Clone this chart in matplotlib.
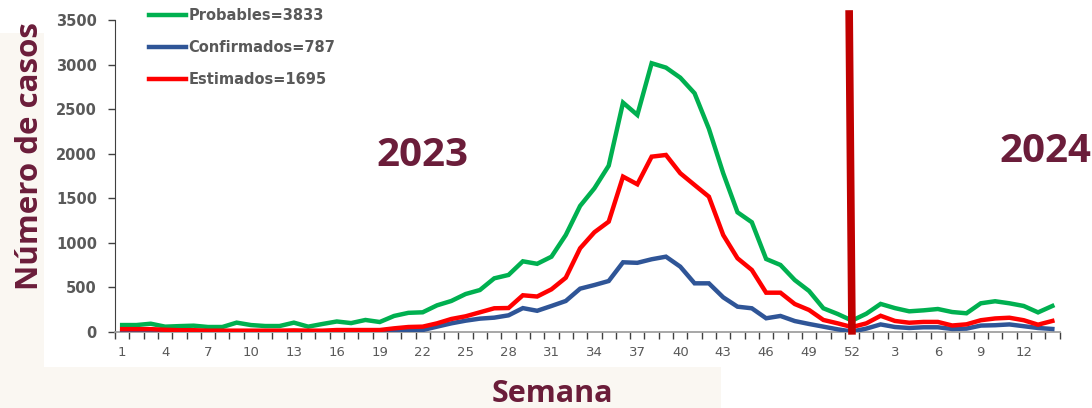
import matplotlib
matplotlib.use("Agg")
import matplotlib.pyplot as plt
from matplotlib.patches import Rectangle

# ---- data ----
weeks_2023 = list(range(1, 53))
weeks_2024 = list(range(1, 15))
week_labels = [str(w) for w in weeks_2023] + [str(w) for w in weeks_2024]

probables = [78, 78, 93, 60, 66, 71, 56, 56, 105, 78, 67, 67, 105, 60, 90, 118, 100, 135, 112, 180,
             215, 221, 299, 348, 426, 471, 602, 640, 793, 765, 845, 1088, 1414, 1612, 1866, 2573,
             2435, 3015, 2966, 2853, 2678, 2280, 1781, 1343, 1231, 819, 752, 583, 460, 266, 202, 128,
             205, 315, 268, 232, 243, 258, 224, 210, 322, 345, 322, 292, 220, 292]
confirmados = [8, 8, 8, 6, 5, 5, 4, 4, 4, 4, 4, 4, 5, 4, 4, 6, 6, 6, 6, 10,
               12, 22, 60, 97, 127, 150, 161, 187, 268, 238, 292, 348, 486, 527, 572, 782,
               776, 816, 845, 733, 546, 546, 389, 284, 266, 154, 180, 123, 90, 60, 30, 5,
               38, 85, 56, 45, 53, 53, 34, 38, 72, 76, 85, 65, 45, 34]
estimados = [32, 32, 32, 25, 20, 20, 15, 15, 15, 15, 15, 15, 18, 15, 15, 22, 22, 22, 22, 41,
             56, 60, 97, 146, 176, 221, 266, 269, 412, 398, 479, 609, 939, 1119, 1238, 1743,
             1657, 1967, 1986, 1781, 1649, 1518, 1088, 827, 696, 441, 441, 314, 247, 135, 97, 55,
             97, 182, 124, 104, 113, 113, 73, 86, 132, 152, 160, 132, 82, 124]

series_names = ["Probables=3833", "Confirmados=787", "Estimados=1695"]
series_colors = ["#00B050", "#2F5597", "#FF0000"]
y_ticks = [0, 500, 1000, 1500, 2000, 2500, 3000, 3500]
year_labels = ["2023", "2024"]

maroon = "#6B1D3A"
gray = "#595959"

fig = plt.figure(figsize=(10.92, 4.08), dpi=100)
fig.patch.set_facecolor("white")

# very faint beige background watermark areas
fig.patches.append(Rectangle((0, 0), 0.66, 0.10, transform=fig.transFigure,
                             facecolor="#FAF7F2", edgecolor="none", zorder=-10))
fig.patches.append(Rectangle((0, 0.10), 0.04, 0.82, transform=fig.transFigure,
                             facecolor="#FAF7F2", edgecolor="none", zorder=-10))

ax = fig.add_axes([115 / 1092, 76 / 408, 944.5 / 1092, 312 / 408])
ax.patch.set_alpha(0)

x = list(range(len(week_labels)))
for vals, name, col in zip([probables, confirmados, estimados], series_names, series_colors):
    ax.plot(x, vals, color=col, lw=3.2, label=name, solid_joinstyle="miter", zorder=3)

# separator at week 52
sep = weeks_2023.index(52)
ax.plot([sep - 0.2, sep], [3610, -30], color="#C00000", lw=5.5, clip_on=False, zorder=4,
        solid_capstyle="butt")

ax.set_xlim(-0.5, len(x) - 0.5)
ax.set_ylim(0, 3500)
ax.set_yticks(y_ticks)
ax.set_yticklabels([str(v) for v in y_ticks], fontsize=10.5, color=gray, fontweight="bold")

label_pos = [i for i in x if i % 3 == 0]
ax.set_xticks(label_pos)
ax.set_xticklabels([week_labels[i] for i in label_pos], fontsize=9.5, color=gray)
ax.set_xticks([i - 0.5 for i in range(len(x) + 1)], minor=True)
ax.tick_params(axis="x", which="major", length=0, pad=10)
ax.tick_params(axis="x", which="minor", length=5, width=1, color="#404040", direction="out")
ax.tick_params(axis="y", length=5, width=1, color="#404040", direction="out", pad=8)

for s in ["top", "right"]:
    ax.spines[s].set_visible(False)
ax.spines["left"].set_color("#404040")
ax.spines["bottom"].set_color("#A0A0A0")
ax.spines["bottom"].set_linewidth(1.3)

ax.set_ylabel("Número de casos", fontsize=22.5, fontweight="bold", color=maroon,
              family=["Open Sans", "DejaVu Sans"])
ax.yaxis.set_label_coords(-0.074, 0.565)
fig.text(552 / 1092, 1 - 394 / 408, "Semana", fontsize=22, fontweight="bold", color=maroon,
         family=["Open Sans", "DejaVu Sans"], ha="center", va="center")

fig.text(422 / 1092, 1 - 156 / 408, year_labels[0], fontsize=29, fontweight="bold", color=maroon,
         family=["Open Sans", "DejaVu Sans"], ha="center", va="center")
fig.text(1045 / 1092, 1 - 152 / 408, year_labels[1], fontsize=29, fontweight="bold", color=maroon,
         family=["Open Sans", "DejaVu Sans"], ha="center", va="center")

leg = ax.legend(loc="upper left", bbox_to_anchor=(142 / 1092, 1 - 1 / 408),
                bbox_transform=fig.transFigure, frameon=False, fontsize=10.5,
                labelspacing=1.15, handlelength=2.55, handletextpad=0.15, borderpad=0)
for t in leg.get_texts():
    t.set_color(gray)
    t.set_fontweight("bold")
for h in leg.get_lines():
    h.set_linewidth(3.2)

fig.savefig("out.png", dpi=100)
